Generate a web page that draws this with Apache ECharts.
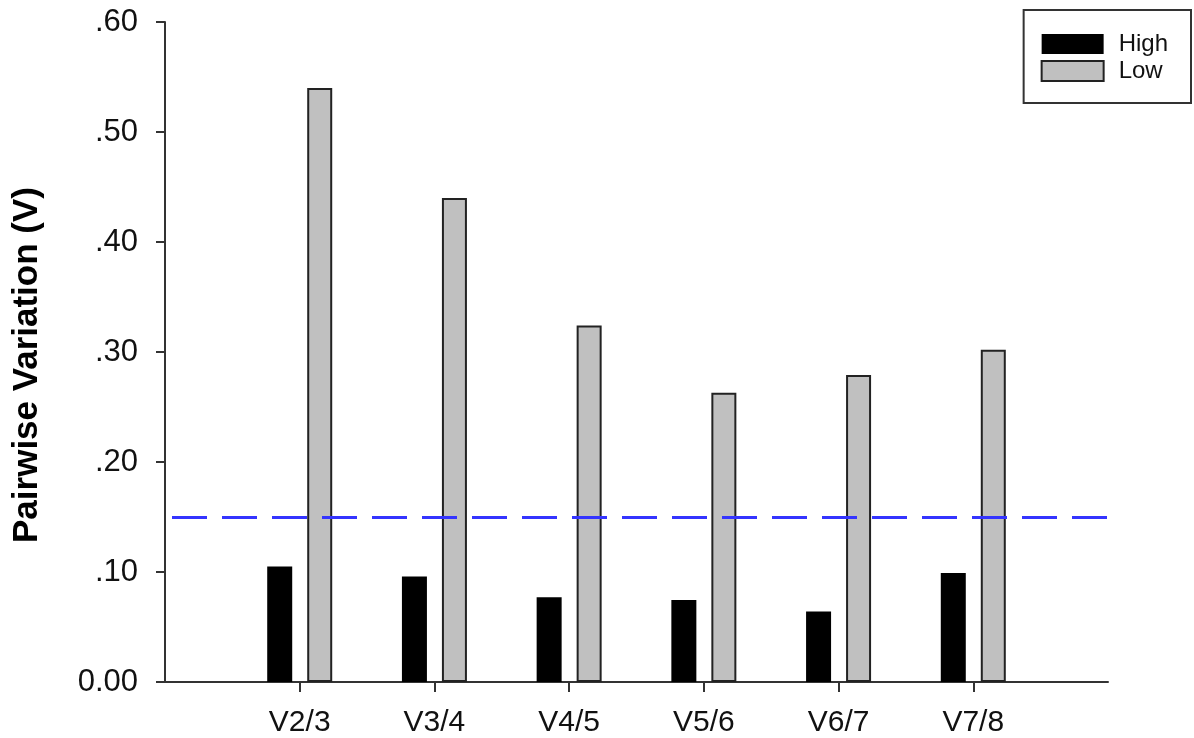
<!DOCTYPE html>
<html>
<head>
<meta charset="utf-8">
<script src="https://cdn.jsdelivr.net/npm/echarts@6/dist/echarts.min.js"></script>
<style>
  html, body { margin: 0; padding: 0; background: #fff; }
  #chart { width: 1194px; height: 738px; }
</style>
</head>
<body>
<div id="chart"></div>
<script>
// Pairwise variation (V) of normalisation factors, high vs low group
const categories = ['', 'V2/3', 'V3/4', 'V4/5', 'V5/6', 'V6/7', 'V7/8', ''];
const highValues = [null, 0.105, 0.096, 0.077, 0.0745, 0.064, 0.099, null];
const lowValues = [null, 0.540, 0.440, 0.324, 0.263, 0.279, 0.302, null];
const yTickLabels = ['0.00', '.10', '.20', '.30', '.40', '.50', '.60'];
const cutoff = 0.15;

const chart = echarts.init(document.getElementById('chart'), null, { renderer: 'canvas' });

const font = 'Liberation Sans, Arial, sans-serif';

chart.setOption({
  animation: false,
  backgroundColor: '#ffffff',
  grid: { left: 165, right: 86, top: 22, bottom: 56 },
  legend: {
    orient: 'vertical',
    right: 3,
    top: 10,
    icon: 'rect',
    itemWidth: 62,
    itemHeight: 20,
    itemGap: 3,
    padding: [22, 23, 20, 17],
    borderColor: '#333',
    borderWidth: 2,
    borderRadius: 0,
    textStyle: { fontFamily: font, fontSize: 24, lineHeight: 20, color: '#111', padding: [0, 0, 0, 10] },
    data: ['High', 'Low']
  },
  xAxis: {
    type: 'category',
    data: categories,
    boundaryGap: false,
    axisLine: { lineStyle: { color: '#333', width: 2 } },
    axisTick: {
      length: 10,
      lineStyle: { color: '#333', width: 2 },
      interval: (i) => i > 0 && i < categories.length - 1
    },
    axisLabel: {
      fontFamily: font, fontSize: 30, color: '#111', margin: 26,
      interval: 0
    },
    splitLine: { show: false }
  },
  yAxis: {
    type: 'value',
    min: 0,
    max: 0.6,
    interval: 0.1,
    name: 'Pairwise Variation (V)',
    nameLocation: 'middle',
    nameGap: 120,
    nameTextStyle: {
      fontFamily: font, fontSize: 35, fontWeight: 'bold', color: '#000',
      padding: [0, 26, 0, 0]
    },
    axisLine: { show: true, lineStyle: { color: '#333', width: 2 } },
    axisTick: { show: true, length: 9, lineStyle: { color: '#333', width: 2 } },
    axisLabel: {
      fontFamily: font, fontSize: 31, color: '#111', margin: 27,
      formatter: (v) => yTickLabels[Math.round(v * 10)]
    },
    splitLine: { show: false }
  },
  series: [
    {
      name: 'High',
      type: 'bar',
      data: highValues,
      barWidth: 25,
      barGap: '60%',
      itemStyle: { color: '#000000' },
      markLine: {
        silent: true,
        symbol: 'none',
        label: { show: false },
        lineStyle: { color: '#3434ff', width: 3, type: [35, 15], dashOffset: -7 },
        data: [{ yAxis: cutoff }]
      }
    },
    {
      name: 'Low',
      type: 'bar',
      data: lowValues,
      barWidth: 25,
      itemStyle: { color: '#c0c0c0', borderColor: '#222', borderWidth: 2 }
    }
  ]
});
</script>
</body>
</html>
